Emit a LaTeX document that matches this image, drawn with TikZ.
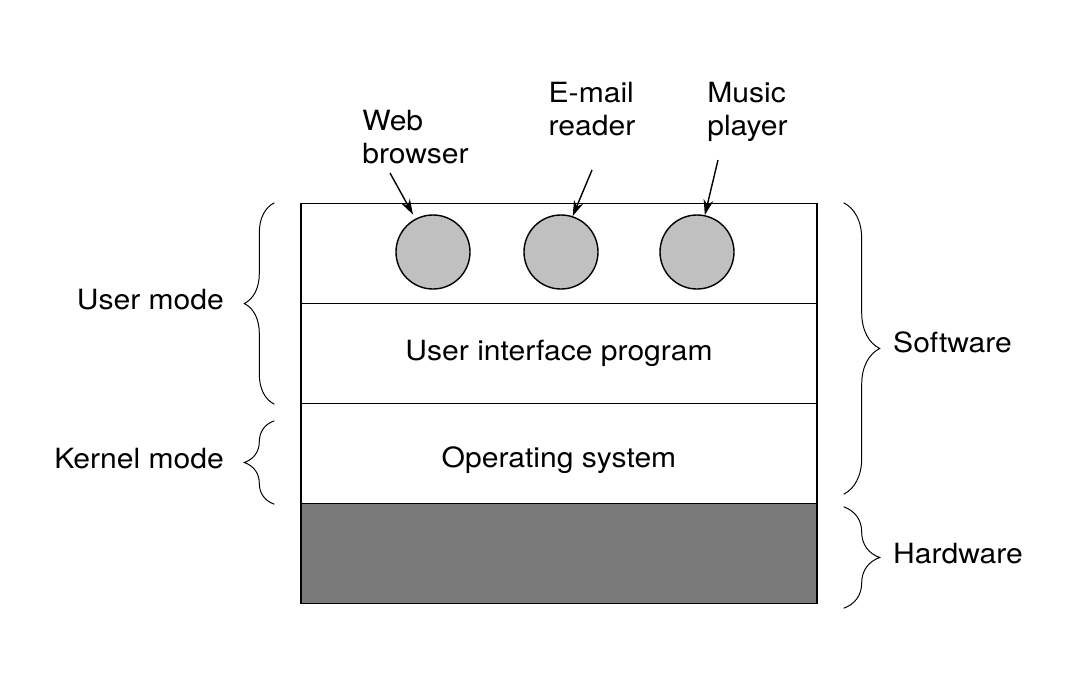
\documentclass[tikz,border=0pt]{standalone}
\usepackage{fontspec}
\setmainfont{TeX Gyre Heros}[FakeStretch=1.08]
\usetikzlibrary{positioning, arrows.meta, decorations.pathreplacing}
\definecolor{grisHardware}{RGB}{122,122,122}
\definecolor{grisPrograma}{RGB}{192,192,192}
\tikzstyle{layerBox} = [rectangle, minimum width=12.9cm, minimum height=2.5cm, text centered, draw=black, line width=1pt, inner sep=0]
\tikzstyle{hardwareBox} = [layerBox, fill=grisHardware]
\tikzstyle{appCircle} = [circle, minimum size=1.85cm, inner sep=0, draw=black, line width=1pt, fill=grisPrograma]
\tikzstyle{appLabel} = [align=left, anchor=north west, inner sep=0]
\tikzstyle{modeLabel} = [inner sep=0]
\tikzstyle{arrow} = [line width=1pt, -{Stealth[length=11pt, width=7pt]}]
\tikzstyle{braceLeft} = [line width=0.7pt, decorate, decoration={brace, amplitude=0.75cm}]
\tikzstyle{braceRight} = [line width=0.7pt, decorate, decoration={brace, amplitude=0.9cm}]

\begin{document}
\begin{tikzpicture}[node distance=2.5cm, font=\fontsize{19.8}{23.4}\selectfont]

	\useasboundingbox (0,0) rectangle (26.9,-17.05);

	% capes del sistema
	\node (apps) [layerBox] at (13.975,-6.3375) {};
	\node (ui) [layerBox, below of=apps] {User interface program};
	\node (os) [layerBox, below of=ui, text height=24pt] {Operating system};
	\node (hw) [hardwareBox, below of=os] {};

	% programes d'usuari
	\node (web) [appCircle] at (10.825,-6.3) {};
	\node (email) [appCircle] at (14.025,-6.3) {};
	\node (music) [appCircle] at (17.425,-6.3) {};

	\node (webLabel) [appLabel] at (9.05,-2.75) {Web\\browser};
	\node (emailLabel) [appLabel] at (13.71,-2.05) {E-mail\\reader};
	\node (musicLabel) [appLabel] at (17.675,-2.05) {Music\\player};

	\coordinate (webTail) at (9.75,-4.325);
	\coordinate (emailTail) at (14.8,-4.25);
	\coordinate (musicTail) at (17.95,-4.0);

	% fletxes
	\draw [arrow, shorten >=0.12cm] (webTail) -- (web.118);
	\draw [arrow] (emailTail) -- (email.72);
	\draw [arrow] (musicTail) -- (music.78);

	% claus
	\draw [braceLeft] ([xshift=-0.65cm]ui.south west) -- ([xshift=-0.65cm]apps.north west)
		node (userMode) [modeLabel, midway, anchor=east, xshift=-1.25cm, yshift=0.1cm] {User mode};
	\draw [braceLeft] ([xshift=-0.65cm]os.south west) -- ([xshift=-0.65cm, yshift=-0.45cm]os.north west)
		node (kernelMode) [modeLabel, midway, anchor=east, xshift=-1.25cm, yshift=0.1cm] {Kernel mode};
	\draw [braceRight] ([xshift=0.65cm]apps.north east) -- ([xshift=0.65cm, yshift=0.25cm]os.south east)
		node (software) [modeLabel, midway, anchor=west, xshift=1.225cm, yshift=0.15cm] {Software};
	\draw [braceRight] ([xshift=0.65cm, yshift=-0.1cm]hw.north east) -- ([xshift=0.65cm, yshift=-0.1cm]hw.south east)
		node (hardware) [modeLabel, midway, anchor=west, xshift=1.225cm, yshift=0.1cm] {Hardware};

\end{tikzpicture}
\end{document}
